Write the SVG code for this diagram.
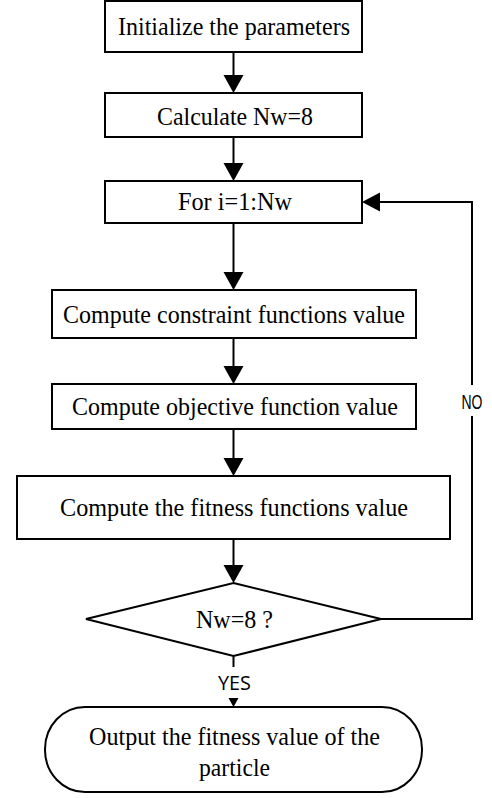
<svg xmlns="http://www.w3.org/2000/svg" width="492" height="798" viewBox="0 0 492 798">
<style>
.box{fill:#fff;stroke:#000;stroke-width:2}
.ln{fill:none;stroke:#000;stroke-width:2}
.t{font-family:"Liberation Serif","Times New Roman",serif;font-size:25px;fill:#000;text-anchor:middle}
.s{font-family:"Open Sans","Noto Sans",sans-serif;font-size:20px;fill:#000;text-anchor:middle}
.n{font-family:"Liberation Sans",Arial,sans-serif;font-size:21px;fill:#000;text-anchor:middle}
.hd{fill:#000}
</style>
<rect width="492" height="798" fill="#fff"/>
<g id="connectors">
<line class="ln" x1="233.5" y1="52" x2="233.5" y2="76"/>
<polygon class="hd" points="223.5,75 243.5,75 233.5,93"/>
<line class="ln" x1="233.5" y1="137" x2="233.5" y2="164"/>
<polygon class="hd" points="223.5,163 243.5,163 233.5,181"/>
<line class="ln" x1="233.5" y1="223" x2="233.5" y2="273"/>
<polygon class="hd" points="223.5,272 243.5,272 233.5,290"/>
<line class="ln" x1="233.5" y1="338" x2="233.5" y2="367"/>
<polygon class="hd" points="223.5,366 243.5,366 233.5,384"/>
<line class="ln" x1="233.5" y1="429" x2="233.5" y2="459"/>
<polygon class="hd" points="223.5,458 243.5,458 233.5,476"/>
<line class="ln" x1="233.5" y1="539" x2="233.5" y2="566"/>
<polygon class="hd" points="223.5,565 243.5,565 233.5,583"/>
<polyline class="ln" points="381,619 472,619 472,416"/>
<polyline class="ln" points="472,385 472,202 379,202"/>
<polygon class="hd" points="380,192.5 380,211.5 362,202"/>
<line class="ln" x1="233.5" y1="656" x2="233.5" y2="667"/>
<polygon class="hd" points="228.5,698 238.5,698 233.5,707"/>
<text class="s" x="234.5" y="690" textLength="33" lengthAdjust="spacingAndGlyphs">YES</text>
<text class="n" x="472" y="409" textLength="21" lengthAdjust="spacingAndGlyphs">NO</text>
</g>
<g id="n1"><rect class="box" x="105" y="1" width="257" height="51"/><text class="t" x="234" y="35" textLength="232" lengthAdjust="spacingAndGlyphs">Initialize the parameters</text></g>
<g id="n2"><rect class="box" x="105" y="93" width="257" height="44"/><text class="t" x="235" y="125" textLength="156" lengthAdjust="spacingAndGlyphs">Calculate Nw=8</text></g>
<g id="n3"><rect class="box" x="105" y="181" width="257" height="42"/><text class="t" x="235" y="210" textLength="114" lengthAdjust="spacingAndGlyphs">For i=1:Nw</text></g>
<g id="n4"><rect class="box" x="52" y="290" width="364" height="48"/><text class="t" x="234" y="323" textLength="342" lengthAdjust="spacingAndGlyphs">Compute constraint functions value</text></g>
<g id="n5"><rect class="box" x="52" y="384" width="364" height="45"/><text class="t" x="235" y="415" textLength="326" lengthAdjust="spacingAndGlyphs">Compute objective function value</text></g>
<g id="n6"><rect class="box" x="17" y="476" width="433" height="63"/><text class="t" x="234" y="516" textLength="348" lengthAdjust="spacingAndGlyphs">Compute the fitness functions value</text></g>
<g id="n7"><polygon class="box" points="233.5,583 381,619 233.5,656 86,619"/><text class="t" x="234.5" y="628" textLength="77" lengthAdjust="spacingAndGlyphs">Nw=8 ?</text></g>
<g id="n8"><rect class="box" x="45" y="707" width="377" height="85" rx="40" ry="42"/><text class="t" x="234.5" y="745" textLength="291" lengthAdjust="spacingAndGlyphs">Output the fitness value of the</text><text class="t" x="234.5" y="776" textLength="71" lengthAdjust="spacingAndGlyphs">particle</text></g>
</svg>
